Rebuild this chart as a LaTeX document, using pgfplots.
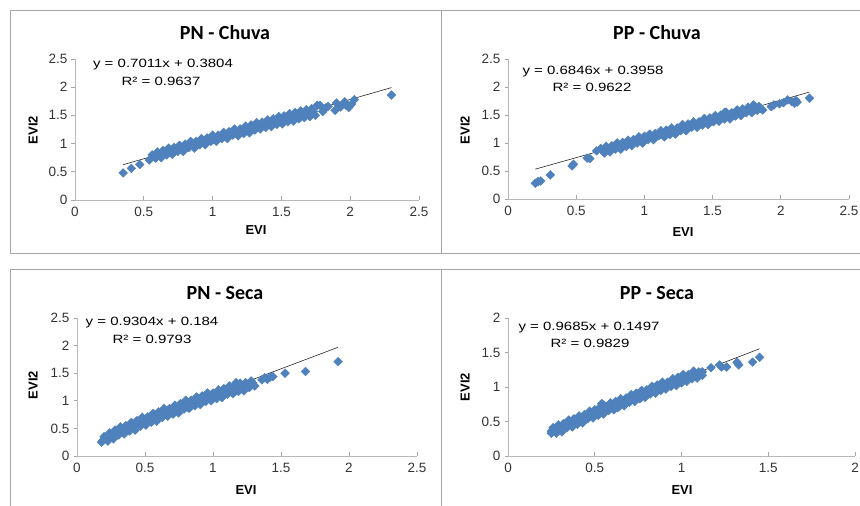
\documentclass[border=0pt]{standalone}
\usepackage{fontspec}
\setmainfont{Liberation Sans}
\newfontfamily\titlefont{Carlito}
\usepackage{graphicx}
\usepackage{pgfplots}
\pgfplotsset{compat=1.18}
\definecolor{excelblue}{HTML}{4F81BD}
\definecolor{framegray}{HTML}{A6A6A6}

\pgfplotsset{
  exc/.style={
    scale only axis, axis x line*=bottom, axis y line*=left,
    axis line style={black!28, line width=0.8pt},
    tick style={black!35, line width=0.8pt},
    tick align=inside, major tick length=3.5pt,
    y tick style={xshift=-3.5pt},
    /pgf/number format/assume math mode=true,
    ticklabel style={font=\fontsize{13.5}{15}\selectfont, text=black!80},
    xticklabel style={yshift=-4pt},
    yticklabel style={xshift=-4pt},
    xmin=0, ymin=0, clip=false,
  },
  pts/.style={only marks, mark=square*, mark size=3.1pt,
    mark options={rotate=45, fill=excelblue, draw=excelblue}, color=excelblue},
  fit/.style={no marks, black!85, line width=0.6pt},
}
\newcommand\eqfont{\fontsize{12}{13}\selectfont}
\newcommand\ttl[1]{{\titlefont\bfseries\fontsize{20}{22}\selectfont #1}}

\begin{document}
\begin{tikzpicture}[x=1pt,y=1pt]
\useasboundingbox (0,0) rectangle (860,506);

% panel frames
\draw[framegray, line width=1pt] (10,252) -- (10,495) -- (860,495);
\draw[framegray, line width=1pt] (10,252) -- (860,252);
\draw[framegray, line width=1.5pt] (441.5,252) -- (441.5,495);
\draw[framegray, line width=1pt] (10,0) -- (10,236) -- (860,236);
\draw[framegray, line width=1.5pt] (441.5,0) -- (441.5,236);

% ---------- PN - Chuva
\begin{axis}[exc, at={(75pt,306pt)}, anchor=south west, width=344pt, height=141pt,
  xmax=2.5, ymax=2.5, xtick={0,0.5,...,2.5}, ytick={0,0.5,...,2.5}]
\addplot[pts] coordinates {
(0.56,0.80)(0.60,0.85)(0.64,0.88)(0.68,0.92)(0.72,0.93)(0.76,0.97)(0.80,0.99)(0.84,1.04)(0.88,1.04)(0.92,1.09)(0.96,1.10)(1.00,1.15)(1.04,1.15)(1.08,1.20)(1.12,1.21)(1.16,1.26)(1.20,1.26)(1.24,1.31)(1.28,1.33)(1.32,1.37)(1.36,1.38)(1.40,1.42)(1.44,1.44)(1.48,1.48)(1.52,1.49)(1.56,1.53)(1.60,1.55)(1.64,1.58)(1.68,1.60)(1.72,1.62)(1.76,1.68)
(0.573,0.77)(0.613,0.80)(0.653,0.84)(0.693,0.85)(0.733,0.89)(0.773,0.91)(0.813,0.95)(0.853,0.96)(0.893,1.00)(0.933,1.02)(0.973,1.06)(1.013,1.07)(1.053,1.12)(1.093,1.13)(1.133,1.18)(1.173,1.18)(1.213,1.23)(1.253,1.24)(1.293,1.29)(1.333,1.30)(1.373,1.34)(1.413,1.35)(1.453,1.40)(1.493,1.41)(1.533,1.45)(1.573,1.46)(1.613,1.50)(1.653,1.52)(1.693,1.55)(1.733,1.57)
(0.587,0.74)(0.627,0.75)(0.667,0.80)(0.707,0.81)(0.747,0.86)(0.787,0.86)(0.827,0.93)(0.867,0.92)(0.907,0.98)(0.947,0.98)(0.987,1.04)(1.027,1.04)(1.067,1.09)(1.107,1.09)(1.147,1.15)(1.187,1.14)(1.227,1.18)(1.267,1.19)(1.307,1.24)(1.347,1.26)(1.387,1.29)(1.427,1.30)(1.467,1.34)(1.507,1.35)(1.547,1.39)(1.587,1.40)(1.627,1.44)(1.667,1.46)(1.707,1.48)(1.747,1.50)
(0.35,0.48)(0.41,0.56)(0.47,0.63)(0.54,0.71)(1.78,1.68)(1.80,1.57)(1.82,1.63)(1.84,1.66)(1.89,1.59)(1.90,1.72)(1.93,1.65)(1.96,1.74)(1.97,1.68)(1.99,1.64)(2.01,1.70)(2.03,1.78)(2.30,1.86)
};
\addplot[fit] coordinates {(0.35,0.626)(2.30,1.993)};
\end{axis}
\node at (225,473) {\ttl{PN - Chuva}};
\node[font=\eqfont] at (163,441) {\scalebox{1.25}[1]{y = 0.7011x + 0.3804}};
\node[font=\eqfont] at (161,425) {\scalebox{1.25}[1]{R² = 0.9637}};
\node[font=\bfseries\fontsize{13}{15}\selectfont] at (256,276) {EVI};
\node[font=\bfseries\fontsize{13}{15}\selectfont, rotate=90] at (33,376) {EVI2};

% ---------- PP - Chuva
\begin{axis}[exc, at={(508pt,307pt)}, anchor=south west, width=341pt, height=140pt,
  xmax=2.5, ymax=2.5, xtick={0,0.5,...,2.5}, ytick={0,0.5,...,2.5}]
\addplot[pts] coordinates {
(0.68,0.90)(0.72,0.94)(0.76,0.95)(0.80,1.00)(0.84,1.01)(0.88,1.05)(0.92,1.06)(0.96,1.11)(1.00,1.12)(1.04,1.16)(1.08,1.17)(1.12,1.22)(1.16,1.23)(1.20,1.27)(1.24,1.27)(1.28,1.33)(1.32,1.34)(1.36,1.38)(1.40,1.38)(1.44,1.44)(1.48,1.45)(1.52,1.49)(1.56,1.50)(1.60,1.55)(1.64,1.54)(1.68,1.59)(1.72,1.61)(1.76,1.64)(1.80,1.67)(1.84,1.65)
(0.693,0.87)(0.733,0.89)(0.773,0.92)(0.813,0.94)(0.853,0.98)(0.893,1.00)(0.933,1.03)(0.973,1.05)(1.013,1.09)(1.053,1.11)(1.093,1.14)(1.133,1.16)(1.173,1.20)(1.213,1.21)(1.253,1.25)(1.293,1.27)(1.333,1.31)(1.373,1.32)(1.413,1.36)(1.453,1.38)(1.493,1.41)(1.533,1.43)(1.573,1.46)(1.613,1.48)(1.653,1.52)(1.693,1.54)(1.733,1.57)(1.773,1.59)(1.813,1.61)(1.853,1.62)
(0.707,0.82)(0.747,0.84)(0.787,0.89)(0.827,0.89)(0.867,0.94)(0.907,0.95)(0.947,1.00)(0.987,1.00)(1.027,1.06)(1.067,1.06)(1.107,1.13)(1.147,1.11)(1.187,1.15)(1.227,1.16)(1.267,1.22)(1.307,1.22)(1.347,1.28)(1.387,1.28)(1.427,1.32)(1.467,1.33)(1.507,1.38)(1.547,1.39)(1.587,1.43)(1.627,1.43)(1.667,1.48)(1.707,1.49)(1.747,1.54)(1.787,1.54)(1.827,1.58)(1.867,1.59)
(0.20,0.28)(0.22,0.31)(0.24,0.32)(0.31,0.43)(0.47,0.59)(0.48,0.62)(0.58,0.73)(0.60,0.72)(0.65,0.86)(1.59,1.55)(1.80,1.68)(1.93,1.65)(1.95,1.68)(1.99,1.70)(2.02,1.72)(2.05,1.77)(2.08,1.74)(2.10,1.71)(2.11,1.76)(2.12,1.73)(2.21,1.80)
};
\addplot[fit] coordinates {(0.20,0.533)(2.21,1.909)};
\end{axis}
\node at (657,473) {\ttl{PP - Chuva}};
\node[font=\eqfont] at (593,434) {\scalebox{1.25}[1]{y = 0.6846x + 0.3958}};
\node[font=\eqfont] at (592,419) {\scalebox{1.25}[1]{R² = 0.9622}};
\node[font=\bfseries\fontsize{13}{15}\selectfont] at (683,274) {EVI};
\node[font=\bfseries\fontsize{13}{15}\selectfont, rotate=90] at (465,376) {EVI2};

% ---------- PN - Seca
\begin{axis}[exc, at={(77pt,50pt)}, anchor=south west, width=340pt, height=138pt,
  xmax=2.5, ymax=2.5, xtick={0,0.5,...,2.5}, ytick={0,0.5,...,2.5}]
\addplot[pts] coordinates {
(0.20,0.35)(0.24,0.42)(0.28,0.47)(0.32,0.53)(0.36,0.55)(0.40,0.61)(0.44,0.64)(0.48,0.70)(0.52,0.71)(0.56,0.77)(0.60,0.80)(0.64,0.86)(0.68,0.86)(0.72,0.92)(0.76,0.95)(0.80,1.01)(0.84,1.01)(0.88,1.07)(0.92,1.09)(0.96,1.14)(1.00,1.14)(1.04,1.20)(1.08,1.22)(1.12,1.27)(1.16,1.27)(1.20,1.32)(1.24,1.33)(1.28,1.36)
(0.213,0.32)(0.253,0.38)(0.293,0.42)(0.333,0.47)(0.373,0.50)(0.413,0.55)(0.453,0.58)(0.493,0.63)(0.533,0.66)(0.573,0.71)(0.613,0.74)(0.653,0.79)(0.693,0.81)(0.733,0.86)(0.773,0.89)(0.813,0.94)(0.853,0.96)(0.893,1.01)(0.933,1.03)(0.973,1.07)(1.013,1.09)(1.053,1.14)(1.093,1.16)(1.133,1.20)(1.173,1.22)(1.213,1.26)(1.253,1.28)(1.293,1.32)
(0.227,0.27)(0.267,0.31)(0.307,0.38)(0.347,0.40)(0.387,0.45)(0.427,0.47)(0.467,0.54)(0.507,0.56)(0.547,0.61)(0.587,0.63)(0.627,0.70)(0.667,0.72)(0.707,0.76)(0.747,0.78)(0.787,0.85)(0.827,0.87)(0.867,0.91)(0.907,0.93)(0.947,0.99)(0.987,1.00)(1.027,1.04)(1.067,1.06)(1.107,1.12)(1.147,1.13)(1.187,1.17)(1.227,1.18)(1.267,1.24)(1.307,1.27)
(0.18,0.25)(0.19,0.28)(0.82,0.87)(1.17,1.33)(1.36,1.38)(1.38,1.42)(1.40,1.39)(1.42,1.43)(1.44,1.44)(1.53,1.50)(1.68,1.53)(1.92,1.71)
};
\addplot[fit] coordinates {(0.18,0.351)(1.92,1.970)};
\end{axis}
\node at (225,213) {\ttl{PN - Seca}};
\node[font=\eqfont] at (152,183) {\scalebox{1.25}[1]{y = 0.9304x + 0.184}};
\node[font=\eqfont] at (152,167) {\scalebox{1.25}[1]{R² = 0.9793}};
\node[font=\bfseries\fontsize{13}{15}\selectfont] at (246,16) {EVI};
\node[font=\bfseries\fontsize{13}{15}\selectfont, rotate=90] at (33,121) {EVI2};

% ---------- PP - Seca
\begin{axis}[exc, at={(508pt,50pt)}, anchor=south west, width=347pt, height=138pt,
  xmax=2, ymax=2, xtick={0,0.5,...,2}, ytick={0,0.5,...,2}]
\addplot[pts] coordinates {
(0.26,0.41)(0.29,0.45)(0.32,0.47)(0.35,0.52)(0.38,0.54)(0.41,0.58)(0.44,0.60)(0.47,0.65)(0.50,0.67)(0.53,0.71)(0.56,0.72)(0.59,0.77)(0.62,0.79)(0.65,0.83)(0.68,0.84)(0.71,0.89)(0.74,0.91)(0.77,0.95)(0.80,0.96)(0.83,1.01)(0.86,1.03)(0.89,1.07)(0.92,1.07)(0.95,1.12)(0.98,1.14)(1.01,1.18)(1.04,1.18)(1.07,1.23)(1.10,1.22)
(0.27,0.37)(0.30,0.40)(0.33,0.44)(0.36,0.47)(0.39,0.50)(0.42,0.53)(0.45,0.57)(0.48,0.60)(0.51,0.63)(0.54,0.66)(0.57,0.69)(0.60,0.72)(0.63,0.75)(0.66,0.78)(0.69,0.81)(0.72,0.84)(0.75,0.87)(0.78,0.90)(0.81,0.93)(0.84,0.96)(0.87,0.99)(0.90,1.02)(0.93,1.04)(0.96,1.07)(0.99,1.10)(1.02,1.13)(1.05,1.15)(1.08,1.18)(1.11,1.20)
(0.28,0.33)(0.31,0.35)(0.34,0.41)(0.37,0.42)(0.40,0.46)(0.43,0.48)(0.46,0.54)(0.49,0.55)(0.52,0.59)(0.55,0.61)(0.58,0.66)(0.61,0.67)(0.64,0.71)(0.67,0.73)(0.70,0.78)(0.73,0.79)(0.76,0.83)(0.79,0.85)(0.82,0.90)(0.85,0.91)(0.88,0.95)(0.91,0.97)(0.94,1.01)(0.97,1.02)(1.00,1.06)(1.03,1.08)(1.06,1.12)(1.09,1.13)(1.12,1.17)
(0.25,0.33)(0.25,0.36)(0.54,0.76)(0.55,0.74)(0.63,0.70)(1.12,1.22)(1.17,1.28)(1.22,1.32)(1.23,1.29)(1.26,1.29)(1.32,1.36)(1.33,1.32)(1.41,1.36)(1.45,1.43)
};
\addplot[fit] coordinates {(0.25,0.392)(1.45,1.554)};
\end{axis}
\node at (657,213) {\ttl{PP - Seca}};
\node[font=\eqfont] at (589,178) {\scalebox{1.25}[1]{y = 0.9685x + 0.1497}};
\node[font=\eqfont] at (590,163) {\scalebox{1.25}[1]{R² = 0.9829}};
\node[font=\bfseries\fontsize{13}{15}\selectfont] at (682,16) {EVI};
\node[font=\bfseries\fontsize{13}{15}\selectfont, rotate=90] at (465,119) {EVI2};
\end{tikzpicture}
\end{document}
